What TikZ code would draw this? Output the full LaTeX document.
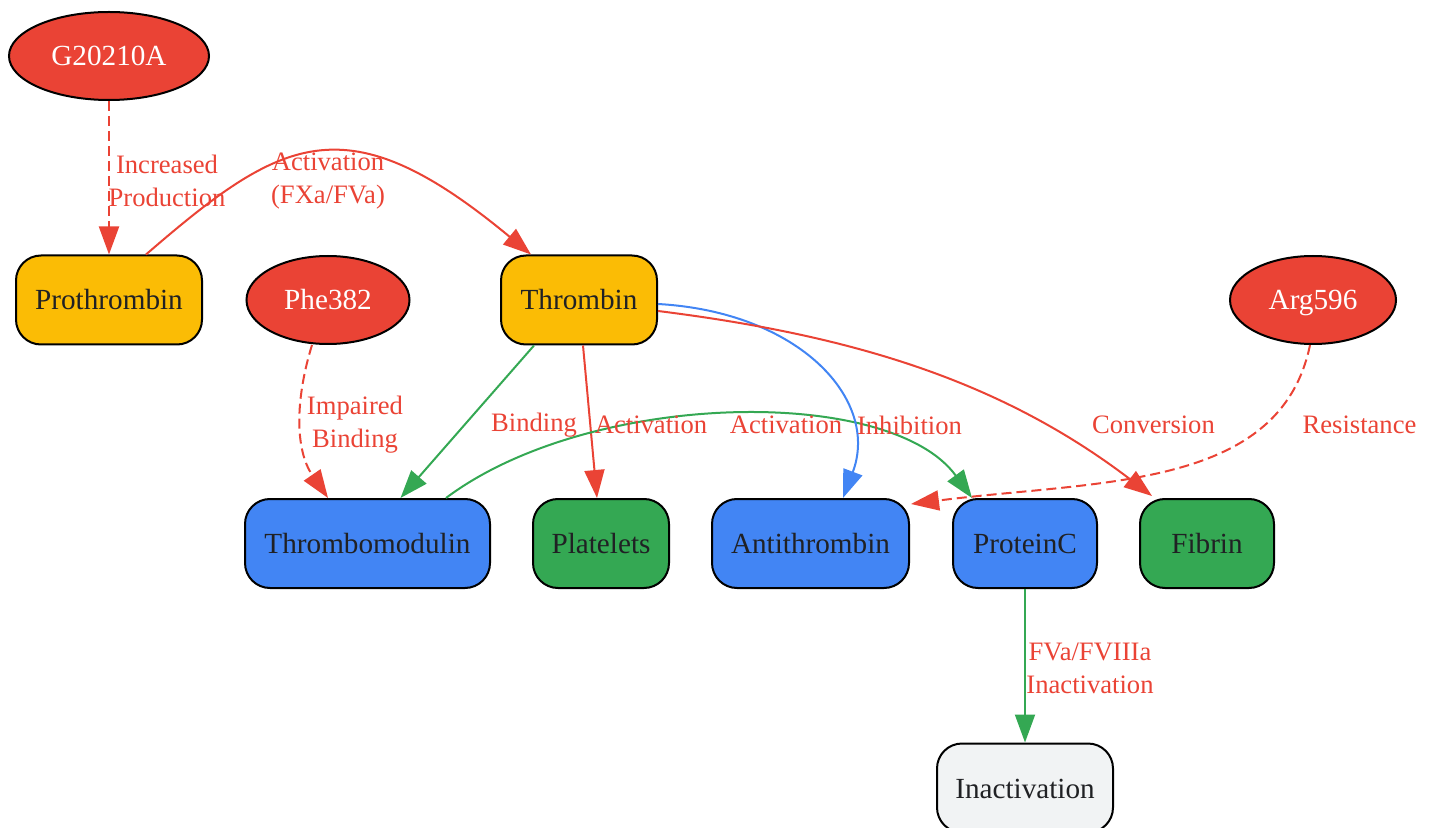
\documentclass[tikz,border=0pt]{standalone}
\usepackage{fontspec}
\setmainfont{Liberation Serif}
\usetikzlibrary{shapes.geometric,arrows.meta,calc}
\definecolor{cred}{HTML}{EA4335}
\definecolor{cyellow}{HTML}{FBBC05}
\definecolor{cblue}{HTML}{4285F4}
\definecolor{cgreen}{HTML}{34A853}
\definecolor{cgray}{HTML}{F1F3F4}
\definecolor{ctext}{HTML}{202124}
\begin{document}
\begin{tikzpicture}[x=0.5pt,y=-0.5pt,
  box/.style={rectangle,rounded corners=12.5pt,draw=black,line width=1pt,minimum height=44.5pt,inner sep=0pt,text=ctext,text height=13pt,text depth=3pt,font=\fontsize{14.6}{17}\selectfont},
  oval/.style={ellipse,draw=black,line width=1pt,fill=cred,minimum height=44pt,inner sep=0pt,text=white,text height=13pt,text depth=3pt,font=\fontsize{14.6}{17}\selectfont},
  lbl/.style={text=cred,align=center,inner sep=0pt,font=\fontsize{13.3}{16.5}\selectfont},
  conn/.style={line width=1pt,-{Triangle[length=14pt,width=10pt]}},
  dashconn/.style={conn,dash pattern=on 5pt off 2.5pt}
]
\useasboundingbox (0,0) rectangle (1434,828);
% nodes
\node[oval,minimum width=100pt] (g) at (109,56) {G20210A};
\node[box,fill=cyellow,minimum width=93pt] (pro) at (109,300) {Prothrombin};
\node[oval,minimum width=81.5pt] (phe) at (328,300) {Phe382};
\node[box,fill=cyellow,minimum width=78pt] (thr) at (579,300) {Thrombin};
\node[oval,minimum width=83pt] (arg) at (1313,300) {Arg596};
\node[box,fill=cblue,minimum width=122.5pt] (tm) at (367.5,543.5) {Thrombomodulin};
\node[box,fill=cgreen,minimum width=68pt] (pl) at (601,543.5) {Platelets};
\node[box,fill=cblue,minimum width=98.5pt] (anti) at (810.5,543.5) {Antithrombin};
\node[box,fill=cblue,minimum width=72pt] (pc) at (1025,543.5) {ProteinC};
\node[box,fill=cgreen,minimum width=67pt] (fib) at (1207,543.5) {Fibrin};
\node[box,fill=cgray,minimum width=88pt] (inact) at (1025,788) {Inactivation};
% edges
\draw[dashconn,cred] (g.south) -- (pro.north);
\draw[conn,cred] ($(pro.north)+(37,0)$) .. controls (282,137) and (346,101) .. ($(thr.north)+(-48,0)$);
\draw[dashconn,cred] ($(phe.south)+(-16,0)$) .. controls (295,400) and (295,450) .. ($(tm.north)+(-39.5,0)$);
\draw[conn,cgreen] ($(thr.south)+(-45,0)$) -- ($(tm.north)+(33,0)$);
\draw[conn,cred] ($(thr.south)+(4,0)$) -- ($(pl.north)+(-4,0)$);
\draw[conn,cgreen] ($(tm.north)+(78.5,0)$) .. controls (590,390) and (890,385) .. ($(pc.north)+(-53,0)$);
\draw[conn,cblue] ($(thr.east)+(0,4)$) .. controls (800,312) and (880,400) .. ($(anti.north)+(32.5,0)$);
\draw[conn,cred] ($(thr.east)+(0,11)$) .. controls (850,335) and (1000,380) .. ($(fib.north)+(-55,-2)$);
\draw[dashconn,cred] ($(arg.south)+(-3,0)$) .. controls (1280,490) and (1100,480) .. ($(anti.north east)+(1,6)$);
\draw[conn,cgreen] (pc.south) -- (inact.north);
% labels
\node[lbl] (l1) at (167,181) {Increased\\Production};
\node[lbl] (l2) at (328,181) {Activation\\(FXa/FVa)};
\node[lbl] (l3) at (355,425) {Impaired\\Binding};
\node[lbl] (l4) at (534,425) {Binding};
\node[lbl] (l5) at (651,425) {Activation};
\node[lbl] (l6) at (786,425) {Activation};
\node[lbl] (l7) at (909.5,425) {Inhibition};
\node[lbl] (l8) at (1153.5,425) {Conversion};
\node[lbl] (l9) at (1359.5,425) {Resistance};
\node[lbl] (l10) at (1090,668) {FVa/FVIIIa\\Inactivation};
\end{tikzpicture}
\end{document}
